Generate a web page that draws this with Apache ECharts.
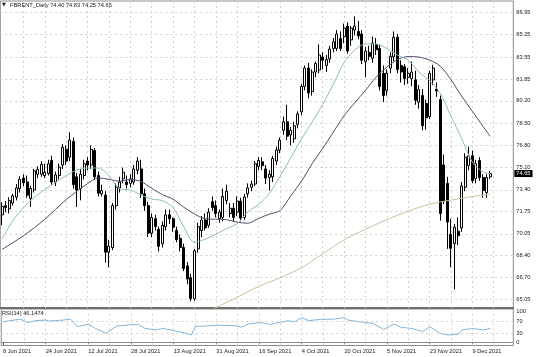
<!DOCTYPE html>
<html>
<head>
<meta charset="utf-8">
<script src="https://cdn.jsdelivr.net/npm/echarts@6/dist/echarts.min.js"></script>
<style>
html,body{margin:0;padding:0;background:#ffffff;}
#chart{width:536px;height:357px;}
</style>
</head>
<body>
<div id="chart"></div>
<script>
// ---------------- DATA ----------------
const symbolName = 'FBRENT_Daily';
const rsiName = 'RSI(14)';

const opens = [
  71.50,72.20,71.95,72.40,72.85,73.50,74.30,74.00,72.75,73.40,
  74.60,74.60,74.50,74.65,75.65,74.00,74.50,75.30,76.50,75.90,
  77.10,74.40,73.50,74.50,75.60,75.30,76.40,74.50,73.10,73.00,
  68.65,69.00,72.20,73.55,74.25,74.00,73.90,74.00,74.90,75.00,
  73.10,72.20,70.10,71.20,70.40,69.30,70.60,71.50,71.20,70.30,
  69.70,69.00,67.60,66.70,65.10,68.90,70.30,71.10,70.70,72.50,
  72.20,71.20,71.30,72.60,71.60,72.00,71.70,72.55,71.30,73.10,
  73.60,73.85,75.20,75.55,75.00,74.35,74.40,75.60,76.45,77.95,
  78.60,77.60,77.30,78.40,79.35,81.30,82.70,80.90,82.40,82.55,
  83.55,82.90,83.40,84.20,84.20,84.95,85.10,85.90,84.85,85.60,
  85.50,85.30,83.20,83.90,83.45,84.50,84.20,82.30,81.00,82.70,
  83.55,85.05,82.90,82.80,82.00,81.90,81.80,80.10,80.60,80.00,
  79.00,81.80,81.10,80.30,75.30,73.90,70.00,69.30,70.25,70.50,
  73.60,75.25,76.00,74.25,75.65,74.35,73.20,74.40
];
const highs = [
  72.45,72.55,72.85,73.10,73.85,74.45,74.60,74.50,73.70,75.00,
  75.20,75.60,75.40,75.70,76.00,74.80,75.40,76.90,76.80,77.80,
  77.40,74.70,75.00,75.70,75.90,76.80,76.60,74.80,73.80,73.30,
  69.60,72.40,73.90,74.40,75.10,74.50,74.60,75.30,75.90,75.70,
  73.50,72.50,71.60,71.50,70.60,71.00,71.90,71.90,71.30,70.60,
  70.00,69.30,67.90,67.00,68.90,70.90,71.40,71.60,72.00,72.90,
  72.60,71.90,73.50,73.80,72.40,72.40,72.90,72.80,73.10,73.90,
  74.10,75.60,75.90,75.90,75.30,74.90,76.00,76.70,77.40,79.00,
  79.90,78.20,78.60,79.40,81.50,82.90,83.10,82.60,83.20,84.50,
  83.90,83.70,84.40,85.00,85.60,85.50,86.10,86.20,85.90,86.65,
  86.30,85.60,84.30,84.40,85.10,85.00,84.50,82.90,82.60,83.90,
  85.50,85.30,83.30,83.00,82.70,83.20,82.50,81.40,81.10,80.30,
  82.50,82.95,81.60,80.60,76.10,74.40,71.20,70.80,71.30,74.00,
  76.20,76.70,76.40,75.70,75.90,74.60,74.60,74.83
];
const lows = [
  70.70,71.70,71.60,72.20,72.60,73.20,73.70,72.80,72.10,73.20,
  74.30,74.40,74.30,74.50,73.80,73.70,74.20,75.00,75.30,75.60,
  73.50,72.10,72.60,74.20,74.90,75.00,74.20,72.90,72.90,67.85,
  67.50,68.80,71.90,73.20,73.90,73.50,73.60,73.80,74.60,72.80,
  71.80,69.80,69.80,70.30,68.70,69.00,70.30,70.80,70.20,69.40,
  68.70,67.20,66.20,64.90,64.95,68.60,69.80,70.30,70.50,71.80,
  71.30,70.90,71.00,72.30,71.30,71.00,71.40,71.00,71.10,72.80,
  73.30,73.70,74.90,74.90,73.85,73.35,74.00,75.30,76.20,77.60,
  77.20,76.80,77.00,78.10,79.10,81.00,80.40,80.60,82.00,82.30,
  82.60,82.40,83.10,83.90,84.00,84.00,84.60,83.80,84.40,85.20,
  84.90,83.00,82.00,83.30,83.10,83.70,81.00,80.10,80.60,82.30,
  83.20,82.30,81.60,81.40,81.50,81.30,79.90,79.60,77.95,78.00,
  78.80,81.40,80.50,71.05,72.30,68.90,67.50,65.80,69.20,70.20,
  73.30,74.90,73.90,73.90,74.10,72.80,72.80,74.25
];
const closes = [
  72.15,72.05,72.60,72.95,73.55,74.20,73.95,73.00,73.50,74.85,
  74.95,75.35,74.75,75.40,74.00,74.55,75.15,76.65,75.60,77.20,
  73.80,73.40,74.60,75.40,75.30,76.50,74.40,73.15,73.35,68.65,
  69.10,72.20,73.60,74.00,74.75,73.80,74.25,75.00,75.60,73.10,
  72.20,70.10,71.30,70.60,69.10,70.70,71.50,71.20,70.55,69.60,
  69.00,67.40,66.60,65.10,68.75,70.60,71.10,70.50,71.70,72.05,
  71.60,71.70,72.90,73.30,72.00,71.30,72.55,71.25,72.85,73.55,
  73.85,75.40,75.65,75.25,74.30,74.60,75.80,76.45,77.20,78.60,
  77.50,77.95,78.30,79.20,81.30,82.70,80.80,82.40,83.05,83.70,
  83.30,83.35,84.15,84.70,85.30,84.20,85.75,84.00,85.75,85.90,
  85.15,83.30,84.00,83.60,84.60,84.10,81.30,80.60,82.30,83.60,
  85.05,82.60,82.40,81.90,82.30,82.40,80.25,81.05,78.30,78.90,
  82.30,82.70,80.95,71.60,72.50,70.95,68.95,70.55,69.90,73.70,
  75.90,76.00,74.10,75.40,74.35,73.35,74.35,74.65
];

// moving averages at the listed bar positions
const fastMaBars = [0,3,6,9,12,15,18,21,24,27,30,33,36,39,42,45,48,51,54,57,60,63,66,69,72,75,78,81,84,87,90,93,96,99,102,105,108,111,114,117,120,123,126,129,132,135,137];
const fastMaValues = [69.67,71.05,72.05,72.81,73.43,73.96,74.50,74.92,75.07,75.07,74.50,73.50,73.39,73.00,72.70,72.58,72.05,70.59,69.40,69.63,70.02,70.44,70.82,71.74,72.28,73.12,74.42,75.84,77.26,78.56,79.94,81.47,83.12,84.08,84.54,84.54,84.19,83.69,83.31,82.39,81.74,80.78,79.02,77.33,75.52,74.77,74.65];

const slowMaBars = [0,6,12,18,24,27,30,33,36,39,42,45,48,51,54,57,60,63,66,69,72,75,78,81,84,87,90,93,96,99,102,105,108,111,114,117,120,123,126,129,132,135,137];
const slowMaValues = [68.86,69.90,71.16,72.66,73.88,74.31,74.21,74.06,74.19,74.04,73.52,73.04,72.69,72.08,71.56,71.20,71.16,71.13,70.93,70.86,71.22,71.55,71.82,72.93,74.05,75.39,76.57,77.82,79.06,80.05,81.00,82.01,82.77,83.35,83.58,83.54,83.31,82.85,81.82,80.55,79.40,78.25,77.49];

const longMaBars = [54,60,66,72,78,84,90,96,102,108,114,120,126,132,137];
const longMaValues = [63.58,64.41,65.21,66.03,66.68,67.45,68.52,69.59,70.40,71.13,71.78,72.31,72.62,72.89,73.10];

const rsiBars = [0,2,5,7,9,12,13,16,19,21,24,26,29,31,32,35,38,40,43,45,48,51,53,54,57,60,65,67,69,72,74,75,78,80,82,84,86,89,93,96,97,100,104,107,110,112,115,118,120,123,125,128,129,132,135,137];
const rsiValues = [67.7,71,76,64.5,71,73,70,72,76,51.6,60,46,30,46,54,57,59,46,41,46,39,32,25,52,54,56,55,50.5,60,65,62,59,65.6,71,67.7,80.6,71,75,76,80.6,73,68,62,43,60,49.5,46,35.5,51.6,30,25,27,41,46,41,46.1474];

const priceTicks = [65.05,66.70,68.40,70.05,71.75,73.40,75.10,76.80,78.50,80.20,81.85,83.55,85.25,86.95];
const rsiTicks = [0,30,70,100];
const rsiLevels = [30,70];

// ---------------- BUILD ----------------
const FONT = 'Liberation Sans';
const FS = 5.7;
const TXT = '#1a1a1a';
const monthNames = ['Jan','Feb','Mar','Apr','May','Jun','Jul','Aug','Sep','Oct','Nov','Dec'];
const barCount = opens.length;
const padSlots = 6;

const categories = [];
const d = new Date(Date.UTC(2021, 5, 8));
while (categories.length < barCount) {
  const wd = d.getUTCDay();
  if (wd !== 0 && wd !== 6) {
    categories.push(d.getUTCDate() + ' ' + monthNames[d.getUTCMonth()] + ' ' + d.getUTCFullYear());
  }
  d.setUTCDate(d.getUTCDate() + 1);
}
for (let k = 0; k < padSlots; k++) categories.push('');

function sparse(bars, values) {
  const arr = new Array(categories.length).fill(null);
  bars.forEach((b, k) => { arr[b] = values[k]; });
  return arr;
}

const candleData = opens.map((o, i) => [o, closes[i], lows[i], highs[i]]);
const last = barCount - 1;
const header = symbolName + ' ' + opens[last].toFixed(2) + ' ' + highs[last].toFixed(2) + ' ' +
  lows[last].toFixed(2) + ' ' + closes[last].toFixed(2);
const rsiHeader = rsiName + ' ' + rsiValues[rsiValues.length - 1].toFixed(4);

const vGrid = [];
for (let b = 6; b < categories.length; b += 6) vGrid.push({ xAxis: b });

const gridLineStyle = { color: '#d2d2d2', width: 1, type: [2, 3] };
const hiddenLine = { color: 'rgba(255,255,255,0)', width: 1, type: 'solid' };
const markBase = { symbol: ['none', 'none'], silent: true, animation: false };

const option = {
  animation: false,
  backgroundColor: '#ffffff',
  textStyle: { fontFamily: FONT },
  title: [
    { text: '\u25BC', left: 2, top: 2, padding: 0, textStyle: { fontSize: 5, color: TXT, fontWeight: 'normal', fontFamily: 'DejaVu Sans' } },
    { text: header, left: 10, top: 2, padding: 0, textStyle: { fontSize: FS, color: TXT, fontWeight: 'normal', fontFamily: FONT } },
    { text: rsiHeader, left: 2, top: 310.5, padding: 0, textStyle: { fontSize: FS, color: TXT, fontWeight: 'normal', fontFamily: FONT } }
  ],
  grid: [
    { left: 0.3, top: 1, width: 513, height: 307, show: true, borderColor: '#8c8c8c', borderWidth: 1 },
    { left: 0.3, top: 309, width: 513, height: 36.5, show: true, borderColor: '#8c8c8c', borderWidth: 1 }
  ],
  xAxis: [
    { type: 'category', gridIndex: 0, data: categories, boundaryGap: true,
      axisLine: { show: true, lineStyle: { color: '#6e6e6e', width: 2 } },
      axisTick: { show: false }, axisLabel: { show: false }, splitLine: { show: false } },
    { type: 'category', gridIndex: 1, data: categories, boundaryGap: true,
      axisLine: { show: true, lineStyle: { color: '#8c8c8c', width: 1 } },
      axisTick: { show: true, interval: 11, alignWithLabel: true, length: 2.5, lineStyle: { color: '#555555' } },
      axisLabel: { show: true, interval: 11, align: 'left', fontSize: FS, color: TXT, margin: 3, fontFamily: FONT },
      splitLine: { show: false } }
  ],
  yAxis: [
    { type: 'value', gridIndex: 0, min: 64.386, max: 87.82, position: 'right',
      axisLine: { show: false }, axisTick: { show: false }, axisLabel: { show: false }, splitLine: { show: false } },
    { type: 'value', gridIndex: 1, min: -9.0, max: 108.7, position: 'right',
      axisLine: { show: false }, axisTick: { show: false }, axisLabel: { show: false }, splitLine: { show: false } }
  ],
  series: [
    // price grid + price labels
    { type: 'line', xAxisIndex: 0, yAxisIndex: 0, data: [], clip: false, z: 1,
      markLine: Object.assign({}, markBase, {
        lineStyle: gridLineStyle,
        label: { show: true, position: 'end', distance: 3, color: TXT, fontSize: FS, fontFamily: FONT,
                 formatter: p => Number(p.value).toFixed(2) },
        data: priceTicks.map(v => ({ yAxis: v }))
      }) },
    // vertical grid in price pane
    { type: 'line', xAxisIndex: 0, yAxisIndex: 0, data: [], z: 1,
      markLine: Object.assign({}, markBase, { lineStyle: gridLineStyle, label: { show: false }, data: vGrid }) },
    // candles
    { type: 'candlestick', xAxisIndex: 0, yAxisIndex: 0, z: 10, barWidth: 2.5, data: candleData,
      itemStyle: { color: '#ffffff', color0: '#000000', borderColor: '#000000', borderColor0: '#000000', borderWidth: 1 } },
    // moving averages
    { type: 'line', xAxisIndex: 0, yAxisIndex: 0, z: 12, data: sparse(longMaBars, longMaValues),
      connectNulls: true, showSymbol: false, smooth: 0.3, lineStyle: { color: '#cdbf9e', width: 1 } },
    { type: 'line', xAxisIndex: 0, yAxisIndex: 0, z: 12, data: sparse(slowMaBars, slowMaValues),
      connectNulls: true, showSymbol: false, smooth: 0.3, lineStyle: { color: '#4d4d6e', width: 1 } },
    { type: 'line', xAxisIndex: 0, yAxisIndex: 0, z: 12, data: sparse(fastMaBars, fastMaValues),
      connectNulls: true, showSymbol: false, smooth: 0.3, lineStyle: { color: '#8fbfae', width: 1 } },
    // current price box
    { type: 'line', xAxisIndex: 0, yAxisIndex: 0, data: [], clip: false, z: 20,
      markLine: Object.assign({}, markBase, {
        lineStyle: hiddenLine,
        label: { show: true, position: 'end', distance: 1, color: '#ffffff', backgroundColor: '#000000',
                 padding: [1, 2, 0, 2], fontSize: FS, fontFamily: FONT, formatter: p => Number(p.value).toFixed(2) },
        data: [{ yAxis: closes[last] }]
      }) },
    // RSI pane grid + labels
    { type: 'line', xAxisIndex: 1, yAxisIndex: 1, data: [], clip: false, z: 1,
      markLine: Object.assign({}, markBase, {
        label: { show: true, position: 'end', distance: 3, color: TXT, fontSize: FS, fontFamily: FONT,
                 formatter: p => String(Math.round(p.value)) },
        data: rsiTicks.map(v => ({ yAxis: v,
          lineStyle: rsiLevels.indexOf(v) >= 0 ? gridLineStyle : hiddenLine }))
      }) },
    { type: 'line', xAxisIndex: 1, yAxisIndex: 1, data: [], z: 1,
      markLine: Object.assign({}, markBase, { lineStyle: gridLineStyle, label: { show: false }, data: vGrid }) },
    // RSI line
    { type: 'line', xAxisIndex: 1, yAxisIndex: 1, z: 10, data: sparse(rsiBars, rsiValues),
      connectNulls: true, showSymbol: false, lineStyle: { color: '#86b6da', width: 1 } }
  ]
};

const chart = echarts.init(document.getElementById('chart'), null, { renderer: 'canvas' });
chart.setOption(option);
</script>
</body>
</html>
